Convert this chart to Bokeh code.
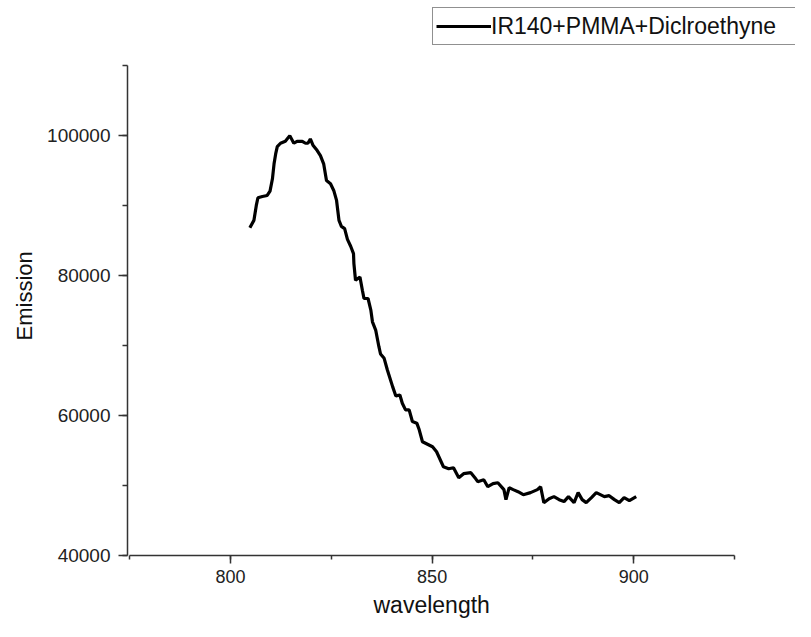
from bokeh.plotting import figure
from bokeh.models import Range1d, SingleIntervalTicker, BasicTickFormatter, Legend, LegendItem, Title
from bokeh.embed import file_html
from bokeh.resources import INLINE

wavelength = [804.8, 805.8, 806.4, 806.8, 807.9, 809.1, 809.8, 810.4, 810.8, 811.2,
              811.6, 812.4, 813.6, 814.7, 815.7, 816.5, 817.8, 818.6, 819.2, 819.8,
              820.5, 821.5, 822.3, 823.1, 823.8, 824.8, 825.6, 826.3, 826.6, 826.9,
              827.5, 828.3, 829.0, 829.8, 830.5, 830.6, 831.0, 832.1, 832.7, 833.1,
              834.1, 834.8, 835.2, 836.0, 836.8, 837.2, 838.1, 838.9, 840.2, 841.0,
              842.0, 842.6, 843.4, 844.3, 845.1, 846.2, 846.8, 847.6, 850.1, 851.1,
              852.8, 854.1, 855.3, 856.6, 857.8, 859.6, 860.6, 861.3, 862.8, 863.8,
              865.1, 866.3, 867.8, 868.3, 869.1, 870.1, 871.3, 872.6, 874.4, 876.1,
              876.9, 877.7, 879.0, 880.2, 881.5, 882.7, 883.8, 885.2, 886.2, 887.2,
              888.2, 889.5, 890.7, 892.7, 893.9, 895.2, 896.4, 897.6, 898.9, 900.6]
emission = [86840, 87880, 90020, 91120, 91300, 91440, 92060, 93820, 95960, 97380,
            98420, 98900, 99180, 99990, 98900, 99180, 99180, 98900, 98900, 99520,
            98570, 97860, 97140, 95960, 93580, 93110, 92160, 90730, 89300, 87880,
            87020, 86700, 85170, 84180, 83130, 81710, 79330, 79800, 77900, 76720,
            76720, 75060, 73390, 72210, 69830, 68790, 68170, 66510, 64130, 62800,
            62940, 61760, 60800, 60800, 59140, 58910, 57960, 56250, 55530, 54820,
            52680, 52400, 52540, 51120, 51690, 51830, 51120, 50550, 50830, 49830,
            50260, 50400, 49410, 47980, 49690, 49410, 49120, 48690, 48980, 49410,
            49830, 47550, 48120, 48410, 47980, 47700, 48410, 47550, 48980, 47980,
            47550, 48270, 48980, 48410, 48550, 47980, 47550, 48270, 47840, 48410]

series_label = "IR140+PMMA+Diclroethyne"
x_title = "wavelength"
y_title = "Emission"
x_axis_span = (775, 925)
y_axis_span = (40000, 110000)

FONT = "Liberation Sans"

# frame extends to the top/right edges so the legend (drawn in the frame) is not clipped;
# the axes themselves are limited to their spans via `bounds`
p = figure(width=795, height=621, output_backend="svg", toolbar_location=None,
           x_range=Range1d(774.46, 940.1), y_range=Range1d(40000, 119296),
           min_border_left=127, min_border_right=0, min_border_top=0, min_border_bottom=65)
p.outline_line_color = None
p.xgrid.grid_line_color = None
p.ygrid.grid_line_color = None
p.background_fill_color = "white"
p.border_fill_color = "white"

r = p.line(wavelength, emission, line_color="black", line_width=3.2)

for ax in (p.xaxis[0], p.yaxis[0]):
    ax.axis_line_color = "#333333"
    ax.axis_line_width = 1.5
    ax.major_tick_line_color = "#333333"
    ax.minor_tick_line_color = "#333333"
    ax.major_tick_line_width = 1.5
    ax.minor_tick_line_width = 1.5
    ax.major_tick_in = 0
    ax.minor_tick_in = 0
    ax.major_tick_out = 9
    ax.minor_tick_out = 5
    ax.major_label_text_font = FONT
    ax.major_label_text_color = "#222222"

p.xaxis.bounds = x_axis_span
p.yaxis.bounds = y_axis_span
p.xaxis.ticker = SingleIntervalTicker(interval=50, num_minor_ticks=2)
p.yaxis.ticker = SingleIntervalTicker(interval=20000, num_minor_ticks=2)
p.yaxis.formatter = BasicTickFormatter(use_scientific=False)
p.xaxis.major_label_text_font_size = "18px"
p.yaxis.major_label_text_font_size = "19px"
p.xaxis.major_tick_out = 8
p.xaxis.minor_tick_out = 4
p.xaxis.major_label_standoff = 6
p.yaxis.major_label_standoff = 8

# axis titles as panel titles so they can be centred on the axis spans
xt = Title(text=x_title, align="left", offset=373 - 127, standoff=8,
           text_font=FONT, text_font_size="23px", text_font_style="normal",
           text_color="#111111")
p.add_layout(xt, "below")
yt = Title(text=y_title, align="left", offset=556 - 341, standoff=16,
           text_font=FONT, text_font_size="22px", text_font_style="normal",
           text_color="#111111")
p.add_layout(yt, "left")

legend = Legend(items=[LegendItem(label=series_label, renderers=[r])],
                location=(305, 510), orientation="vertical",
                border_line_color="#222222", border_line_width=1.2,
                background_fill_color="white", background_fill_alpha=1,
                padding=3, margin=0, glyph_width=55, glyph_height=30,
                label_height=30, label_width=301, label_standoff=0,
                label_text_font=FONT, label_text_font_size="23px",
                label_text_color="#111111")
p.add_layout(legend, "center")

open("out.html", "w").write(file_html(p, INLINE))
